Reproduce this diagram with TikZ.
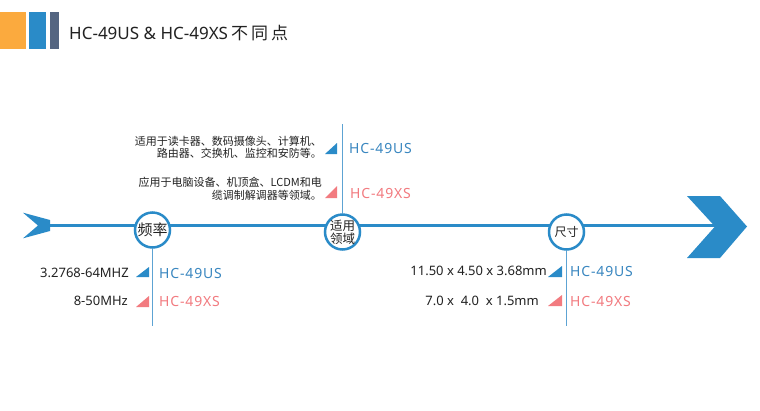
\documentclass[tikz,border=0pt]{standalone}
\usepackage{fontspec}
\setmainfont{Noto Sans}
\newfontfamily\cjk{Noto Sans CJK SC}
\newfontfamily\lblfont[LetterSpace=6]{Noto Sans}
\definecolor{orangec}{HTML}{FBAA3E}
\definecolor{bluec}{HTML}{2A8BC8}
\definecolor{slatec}{HTML}{546581}
\definecolor{mainblue}{HTML}{2A8BC8}
\definecolor{usblue}{HTML}{3A87C0}
\definecolor{pinkc}{HTML}{F27B80}
\definecolor{vblue}{HTML}{5DA3D3}
\definecolor{txt}{HTML}{222222}
\begin{document}
\begin{tikzpicture}[x=1pt,y=-1pt,
  hub/.style={circle,draw=mainblue,line width=2.5pt,fill=white,minimum size=35pt,inner sep=0pt,text=txt,align=center},
  vline/.style={draw=vblue,line width=0.9pt},
  uslbl/.style={anchor=west,inner sep=0pt,text=usblue,font=\lblfont\fontsize{14}{14}\selectfont},
  xslbl/.style={anchor=west,inner sep=0pt,text=pinkc,font=\lblfont\fontsize{14}{14}\selectfont},
  spec/.style={anchor=east,inner sep=0pt,text=txt,font=\fontsize{13}{13}\selectfont},
  desc/.style={anchor=east,inner sep=0pt,text=txt,align=right,font=\cjk\fontsize{11}{12.5}\selectfont}
]
\useasboundingbox (0,0) rectangle (760,410);
\fill[white] (0,0) rectangle (760,410);
% header
\fill[orangec] (0,12) rectangle (26,49);
\fill[bluec] (29,12) rectangle (46,49);
\fill[slatec] (50,12) rectangle (59,49);
\node[anchor=west,inner sep=0pt,text=txt,font=\fontsize{17}{17}\selectfont] (title) at (69,33)
  {HC-49US \& HC-49XS{\cjk\hspace{3pt}不\hspace{3pt}同\hspace{3pt}点}};
% main axis
\coordinate (tail) at (45,225.5);
\coordinate (head) at (716,225.5);
\draw[mainblue,line width=2.2pt] (tail) -- (head);
\fill[mainblue] (23,212.7) -- (50,220) -- (50,231) -- (23,238.3) -- (38,225.5) -- cycle;
\fill[mainblue] (687,196) -- (720,196) -- (747,226.5) -- (720,258) -- (687,258) -- (715,226.5) -- cycle;
% hubs
\node[hub,font=\cjk\fontsize{15}{15}\selectfont] (c1) at (152.5,230) {频率};
\node[hub,font=\cjk\fontsize{12.5}{13}\selectfont] (c2) at (342.5,232) {适用\\领域};
\node[hub,font=\cjk\fontsize{12}{12}\selectfont] (c3) at (566.5,232) {尺寸};
% vertical lines
\coordinate (v1) at (152.5,326);
\coordinate (v2) at (342.5,124);
\coordinate (v3) at (566.5,326);
\draw[vline] (c1.south) -- (v1);
\draw[vline] (c2.north) -- (v2);
\draw[vline] (c3.south) -- (v3);
% section 2 (application)
\node[desc] (d1) at (322,147.5) {适用于读卡器、数码摄像头、计算机、\\路由器、交换机、监控和安防等。};
\node[desc] (d2) at (322,189) {应用于电脑设备、机顶盒、LCDM和电\\缆调制解调器等领域。};
\fill[mainblue] (325,154) -- (337,154) -- (337,143) -- cycle;
\fill[pinkc] (325,198) -- (337,198) -- (337,186) -- cycle;
\node[uslbl] (u2) at (349,148) {HC-49US};
\node[xslbl] (x2) at (350,193) {HC-49XS};
% section 1 (frequency)
\node[spec] (f1) at (129,273) {3.2768-64MHZ};
\node[spec] (f2) at (128,301) {8-50MHz};
\fill[mainblue] (136,277) -- (149,277) -- (149,267) -- cycle;
\fill[pinkc] (136,307) -- (149,307) -- (149,296) -- cycle;
\node[uslbl] (u1) at (159,273) {HC-49US};
\node[xslbl] (x1) at (159,301) {HC-49XS};
% section 3 (size)
\node[spec] (s1) at (547,271) {11.50 x 4.50 x 3.68mm};
\node[spec] (s2) at (539,301) {7.0 x\ \ 4.0\ \ x 1.5mm};
\fill[mainblue] (548,277) -- (562,277) -- (562,266) -- cycle;
\fill[pinkc] (548,306) -- (562,306) -- (562,295) -- cycle;
\node[uslbl] (u3) at (570,271) {HC-49US};
\node[xslbl] (x3) at (570,301) {HC-49XS};
\end{tikzpicture}
\end{document}
